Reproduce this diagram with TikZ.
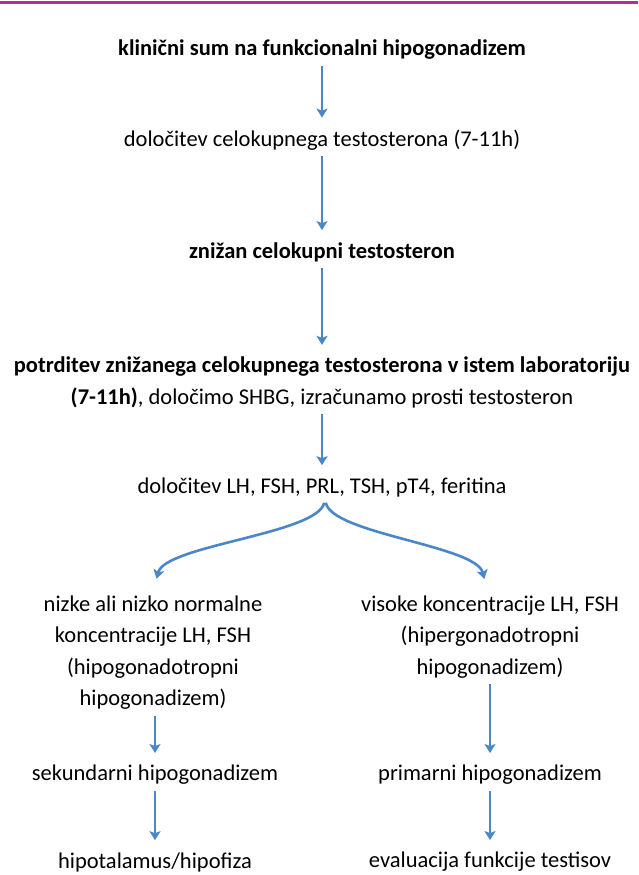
\documentclass[tikz,border=0pt]{standalone}
\usepackage{fontspec}
\setmainfont{Carlito}
\usetikzlibrary{arrows.meta}
\definecolor{steel}{HTML}{4A87C6}
\definecolor{rosebar}{HTML}{C2298E}

\begin{document}
\begin{tikzpicture}[x=1pt, y=-1pt, font=\fontsize{22.5}{31.5}\selectfont,
    txt/.style={align=center, inner sep=2pt},
    arr/.style={steel, line width=2.6pt,
      -{Stealth[length=9pt, width=11pt, inset=2pt]},
      shorten <=4pt, shorten >=10pt}]
  \useasboundingbox (0,0) rectangle (638,875);

  % magenta rule on top
  \draw[rosebar, line width=3pt] (0,3) -- (638,3);

  % main column
  \node[txt, font=\fontsize{22.5}{31.5}\selectfont\bfseries] (sum) at (322,50)
        {klinični sum na funkcionalni hipogonadizem};
  \node[txt] (celok) at (322,140) {določitev celokupnega testosterona (7-11h)};
  \node[txt, font=\fontsize{22.5}{31.5}\selectfont\bfseries] (nizek) at (322,252)
        {znižan celokupni testosteron};
  \node[txt] (potrd) at (322,382.5)
        {\textbf{potrditev znižanega celokupnega testosterona v istem laboratoriju}\\
         \textbf{(7-11h)}, določimo SHBG, izračunamo prosti testosteron};
  \node[txt] (lhfsh) at (322,487) {določitev LH, FSH, PRL, TSH, pT4, feritina};

  % two branches
  \node[txt] (nizke) at (153,652.5)
        {nizke ali nizko normalne\\ koncentracije LH, FSH\\ (hipogonadotropni\\ hipogonadizem)};
  \node[txt] (visoke) at (490,637)
        {visoke koncentracije LH, FSH\\ (hipergonadotropni\\ hipogonadizem)};
  \node[txt] (sek) at (155,775) {sekundarni hipogonadizem};
  \node[txt] (prim) at (490,775) {primarni hipogonadizem};
  \node[txt] (hipot) at (155,862) {hipotalamus/hipofiza};
  \node[txt] (evalv) at (490,862) {evaluacija funkcije testisov};

  \draw[arr] (sum.south) -- (sum.south |- celok.north);
  \draw[arr] (celok.south) -- (celok.south |- nizek.north);
  \draw[arr] (nizek.south) -- (nizek.south |- potrd.north);
  \draw[arr] (potrd.south) -- (potrd.south |- lhfsh.north);

  % fork
  \draw[arr, shorten >=15pt] ([xshift=3pt]lhfsh.south)
        .. controls +(-7,35) and +(12,-48) .. (nizke.north);
  \draw[arr, shorten >=15pt] ([xshift=3pt]lhfsh.south)
        .. controls +(7,35) and +(-12,-48) .. ([xshift=-2pt]visoke.north);

  \draw[arr] (sek.north |- nizke.south) -- (sek.north);
  \draw[arr] (visoke.south) -- (visoke.south |- prim.north);
  \draw[arr] (sek.south) -- (sek.south |- hipot.north);
  \draw[arr] (prim.south) -- (prim.south |- evalv.north);
\end{tikzpicture}
\end{document}
